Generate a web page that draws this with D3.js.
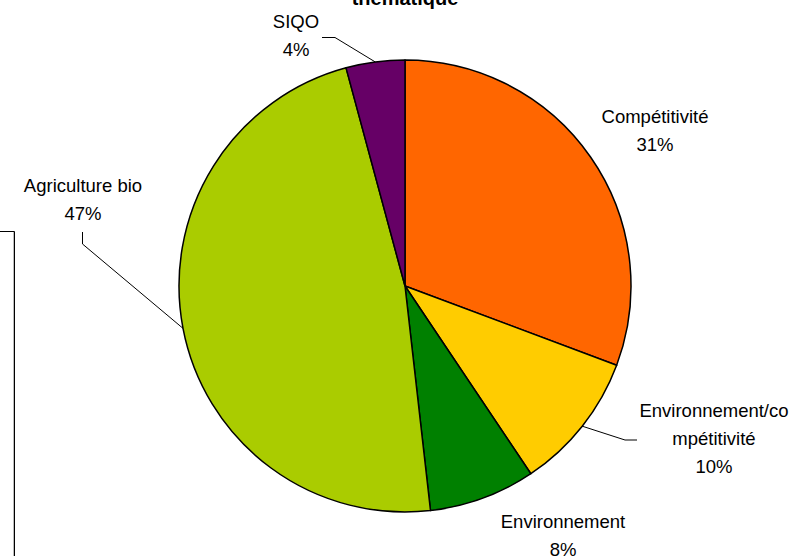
<!DOCTYPE html>
<html>
<head>
<meta charset="utf-8">
<script src="https://cdn.jsdelivr.net/npm/d3@7/dist/d3.min.js"></script>
<style>
html,body{margin:0;padding:0;background:#fff;}
svg{display:block;}
</style>
</head>
<body>
<svg id="chart" width="805" height="556"></svg>
<script>
const categories = ["Compétitivité", "Environnement/compétitivité", "Environnement", "Agriculture bio", "SIQO"];
const values = [30.7, 9.9, 7.6, 47.6, 4.2];
const percentLabels = ["31%", "10%", "8%", "47%", "4%"];
const colors = ["#FF6600", "#FFCC00", "#008000", "#AACC00", "#660066"];
const labelLines = [["Compétitivité"], ["Environnement/co", "mpétitivité"], ["Environnement"], ["Agriculture bio"], ["SIQO"]];
const title = "thématique";

const svg = d3.select("#chart");
const cx = 405, cy = 286, r = 226;
const font = "'Liberation Sans', Arial, sans-serif";

// partial frame at left
svg.append("path").attr("d", "M0,231.5H14.5V556").attr("fill", "none").attr("stroke", "#000").attr("stroke-width", 1);
svg.append("line").attr("x1", 13.5).attr("x2", 13.5).attr("y1", 232).attr("y2", 556).attr("stroke", "#bbb").attr("stroke-width", 1);

// title (clipped at top)
svg.append("text").attr("x", cx).attr("y", 5).attr("text-anchor", "middle")
  .attr("font-family", font).attr("font-weight", "bold").attr("font-size", 20).text(title);

const data = categories.map((c, i) => ({name: c, value: values[i], pct: percentLabels[i], color: colors[i], lines: labelLines[i]}));
const pie = d3.pie().value(d => d.value).sort(null);
const arc = d3.arc().innerRadius(0).outerRadius(r);
const arcs = pie(data);

const g = svg.append("g").attr("transform", `translate(${cx},${cy})`);
g.selectAll("path.slice").data(arcs).enter().append("path")
  .attr("class", "slice")
  .attr("d", arc)
  .attr("fill", d => d.data.color)
  .attr("stroke", "#000")
  .attr("stroke-width", 1.5)
  .attr("stroke-linejoin", "round");

// label positions (absolute) : center x, first-line center y
const labelPos = [
  {x: 655, y: 117},
  {x: 714, y: 411},
  {x: 563, y: 522},
  {x: 83, y: 186},
  {x: 296, y: 22}
];
const lineH = 28;
const fs = 18.5;

arcs.forEach((a, i) => {
  const p = labelPos[i];
  const lines = a.data.lines.concat([a.data.pct]);
  const t = svg.append("text").attr("text-anchor", "middle")
    .attr("font-family", font).attr("font-size", fs).attr("fill", "#000");
  lines.forEach((ln, j) => {
    t.append("tspan").attr("x", p.x).attr("y", p.y + j * lineH).attr("dy", "0.35em").text(ln);
  });
});

// leader lines: from pie edge (computed from arc angle) to label anchor
function edgePoint(a, frac) {
  const ang = a.startAngle + (a.endAngle - a.startAngle) * frac;
  return [cx + r * Math.sin(ang), cy - r * Math.cos(ang)];
}
const leaders = [
  {i: 1, frac: 0.5, pts: [[625, 440], [637, 440]]},
  {i: 3, frac: 0.5, pts: [[82.5, 244], [82.5, 232]]},
  {i: 4, frac: 0.5, pts: [[335, 37.5], [322, 37.5]]}
];
leaders.forEach(l => {
  const e = edgePoint(arcs[l.i], l.frac);
  const pts = [e].concat(l.pts);
  svg.append("path").attr("d", d3.line()(pts)).attr("fill", "none").attr("stroke", "#000").attr("stroke-width", 1);
});
</script>
</body>
</html>
